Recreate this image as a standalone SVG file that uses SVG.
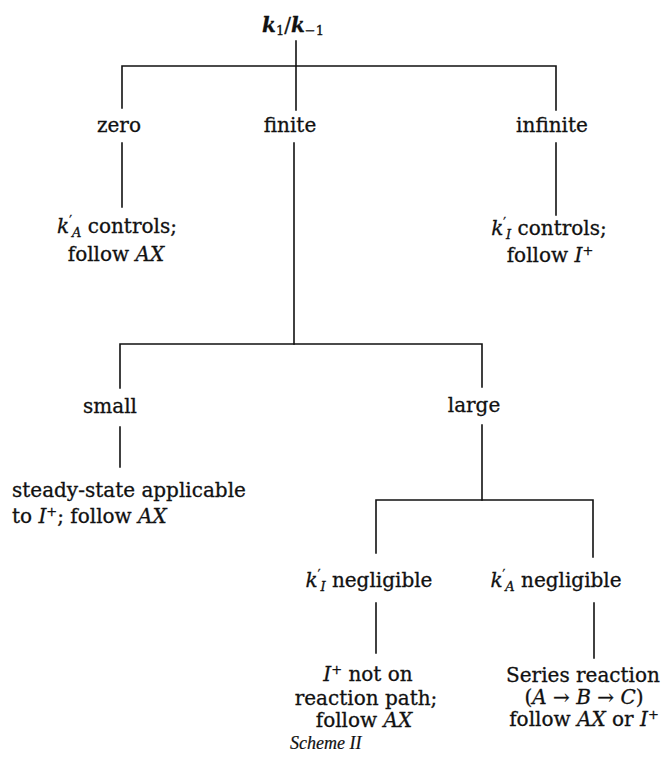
<svg xmlns="http://www.w3.org/2000/svg" width="669" height="765" viewBox="0 0 669 765">
  <style>
    .t { font-family: "DejaVu Serif", "Liberation Serif", serif; font-size: 20px; fill: #111; stroke: #111; stroke-width: 0.3; text-anchor: middle; }
    .i { font-style: italic; }
    .sub { font-size: 13px; }
    .pr { font-size: 12px; }
    .cap { font-family: "Liberation Serif", "DejaVu Serif", serif; font-size: 18px; font-style: italic; fill: #111; stroke: #111; stroke-width: 0.2; }
    .conn { fill: none; stroke: #111; stroke-width: 1.6; stroke-linecap: square; }
  </style>
  <rect width="669" height="765" fill="#fff"/>

  <!-- connectors of the decision tree -->
  <g id="connectors" class="conn">
    <path d="M296 41 V110"/>
    <path d="M122 108 V66 H556 V110"/>
    <path d="M122 143 V207"/>
    <path d="M294 143 V344"/>
    <path d="M556 143 V215"/>
    <path d="M120 388 V344 H482 V387"/>
    <path d="M120 427 V467"/>
    <path d="M482 425 V500"/>
    <path d="M376 553 V500 H593 V557"/>
    <path d="M376 603 V653"/>
    <path d="M594 603 V658"/>
  </g>

  <!-- root: rate-constant ratio -->
  <g id="root">
    <text class="t" x="293" y="32"><tspan class="i" font-weight="bold">k</tspan><tspan class="sub" dy="3">1</tspan><tspan dy="-3">/</tspan><tspan class="i" font-weight="bold">k</tspan><tspan class="sub" dy="3">−1</tspan></text>
  </g>

  <g id="zero">
    <text class="t" x="119" y="132">zero</text>
  </g>
  <g id="finite">
    <text class="t" x="290" y="132">finite</text>
  </g>
  <g id="infinite">
    <text class="t" x="552" y="132">infinite</text>
  </g>

  <g id="zero-result">
    <text class="t" x="117" y="233"><tspan class="i">k</tspan><tspan class="pr" dy="-8">′</tspan><tspan class="sub i" dy="12">A</tspan><tspan dy="-4"> controls;</tspan></text>
    <text class="t" x="116" y="261">follow <tspan class="i">AX</tspan></text>
  </g>

  <g id="infinite-result">
    <text class="t" x="549" y="235"><tspan class="i">k</tspan><tspan class="pr" dy="-8">′</tspan><tspan class="sub i" dy="12">I</tspan><tspan dy="-4"> controls;</tspan></text>
    <text class="t" x="550" y="262">follow <tspan class="i">I</tspan><tspan class="sub" dy="-7">+</tspan></text>
  </g>

  <g id="small">
    <text class="t" x="110" y="413">small</text>
  </g>
  <g id="large">
    <text class="t" x="474" y="412">large</text>
  </g>

  <g id="small-result">
    <text class="t" x="12" y="497" style="text-anchor:start">steady-state applicable</text>
    <text class="t" x="12" y="523" style="text-anchor:start">to <tspan class="i">I</tspan><tspan class="sub" dy="-7">+</tspan><tspan dy="7">; follow </tspan><tspan class="i">AX</tspan></text>
  </g>

  <g id="kI-negligible">
    <text class="t" x="369" y="587"><tspan class="i">k</tspan><tspan class="pr" dy="-8">′</tspan><tspan class="sub i" dy="12">I</tspan><tspan dy="-4"> negligible</tspan></text>
  </g>
  <g id="kA-negligible">
    <text class="t" x="556" y="587"><tspan class="i">k</tspan><tspan class="pr" dy="-8">′</tspan><tspan class="sub i" dy="12">A</tspan><tspan dy="-4"> negligible</tspan></text>
  </g>

  <g id="intermediate-off-path">
    <text class="t" x="368" y="681"><tspan class="i">I</tspan><tspan class="sub" dy="-7">+</tspan><tspan dy="7"> not on</tspan></text>
    <text class="t" x="366" y="705">reaction path;</text>
    <text class="t" x="364" y="727">follow <tspan class="i">AX</tspan></text>
    <text class="cap" x="290" y="749">Scheme II</text>
  </g>

  <g id="series-reaction">
    <text class="t" x="583" y="682">Series reaction</text>
    <text class="t" x="584" y="704">(<tspan class="i">A</tspan> → <tspan class="i">B</tspan> → <tspan class="i">C</tspan>)</text>
    <text class="t" x="584" y="726">follow <tspan class="i">AX</tspan> or <tspan class="i">I</tspan><tspan class="sub" dy="-7">+</tspan></text>
  </g>
</svg>
